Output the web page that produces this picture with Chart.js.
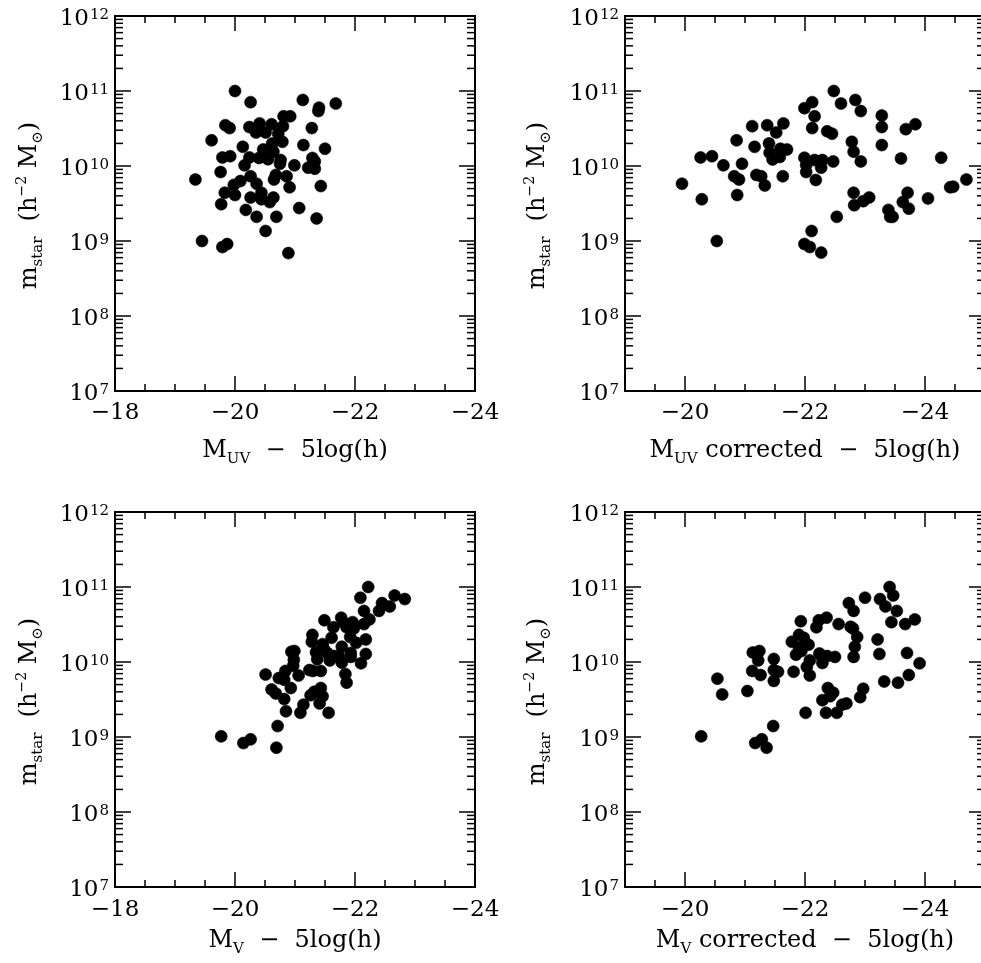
<!DOCTYPE html>
<html>
<head>
<meta charset="utf-8">
<script src="https://cdn.jsdelivr.net/npm/chart.js@4.4.0/dist/chart.umd.min.js"></script>
<style>
  html, body { margin: 0; padding: 0; background: #fff; width: 981px; height: 963px; overflow: hidden; position: relative; }
  canvas { position: absolute; }
  .t { position: absolute; font-family: "DejaVu Serif", serif; font-size: 24px; color: #000; white-space: pre; line-height: 24px; text-align: center; }
  .rot { transform: rotate(-90deg); }
  .sub { font-size: 15px; position: relative; top: 6px; }
  .sup { font-size: 14px; position: relative; top: -10px; }
</style>
</head>
<body>
<canvas id="p1" width="520" height="480" style="left:0;top:0"></canvas>
<canvas id="p2" width="510" height="480" style="left:490px;top:0"></canvas>
<canvas id="p3" width="520" height="473" style="left:0;top:490px"></canvas>
<canvas id="p4" width="510" height="473" style="left:490px;top:490px"></canvas>

<div class="t" style="left:95px;top:437px;width:400px">M<span class="sub">UV</span>  −  5log(h)</div>
<div class="t" style="left:605px;top:437px;width:400px">M<span class="sub">UV</span> corrected  −  5log(h)</div>
<div class="t" style="left:95px;top:927px;width:400px">M<span class="sub">V</span>  −  5log(h)</div>
<div class="t" style="left:605px;top:927px;width:400px">M<span class="sub">V</span> corrected  −  5log(h)</div>

<div class="t rot" style="left:-171px;top:192px;width:400px">m<span class="sub">star</span>  (h<span class="sup">−2</span> M<span class="sub">⊙</span>)</div>
<div class="t rot" style="left:337px;top:192px;width:400px">m<span class="sub">star</span>  (h<span class="sup">−2</span> M<span class="sub">⊙</span>)</div>
<div class="t rot" style="left:-171px;top:688px;width:400px">m<span class="sub">star</span>  (h<span class="sup">−2</span> M<span class="sub">⊙</span>)</div>
<div class="t rot" style="left:337px;top:688px;width:400px">m<span class="sub">star</span>  (h<span class="sup">−2</span> M<span class="sub">⊙</span>)</div>

<script>
// stellar masses are in units of 1e9 h^-2 Msun

// top left: M_UV
const muv = [-20.0, -20.26, -21.13, -21.68, -21.40, -21.39, -20.81, -20.92, -19.84, -19.91,
  -20.24, -20.41, -20.61, -20.35, -20.51, -20.80, -20.72, -21.28, -19.61, -20.13,
  -20.62, -20.79, -21.14, -21.50, -20.47, -20.64, -19.79, -19.92, -20.24, -20.40,
  -20.55, -20.76, -20.75, -21.29, -21.33, -20.99, -21.22, -21.33, -20.16, -19.76,
  -19.34, -20.09, -20.26, -19.98, -20.36, -20.68, -20.65, -20.86, -19.83, -20.00,
  -19.77, -20.26, -20.44, -20.44, -20.58, -20.64, -20.91, -21.43, -20.18, -20.36,
  -20.69, -21.07, -21.36, -20.51, -19.45, -19.79, -19.87, -20.89];
const mstarUV = [100, 71, 76, 68, 60, 54, 46, 46, 35, 32,
  33, 37, 36, 28, 28, 34, 27, 32, 22, 18,
  20, 21, 19, 17, 16.6, 15.5, 13, 13.5, 13, 12.8,
  12.3, 12, 10.7, 12.8, 11.5, 10.2, 9.5, 9.2, 10.2, 8.3,
  6.6, 6.3, 7.3, 5.6, 5.8, 7.6, 6.6, 7.3, 4.4, 4.1,
  3.1, 3.8, 4.4, 3.6, 3.3, 3.8, 5.2, 5.4, 2.6, 2.1,
  2.1, 2.75, 2.0, 1.36, 1.0, 0.83, 0.91, 0.69];

// top right: M_UV corrected
const muvCorr = [-22.48, -22.84, -22.60, -22.12, -21.99, -22.93, -22.16, -23.28, -23.28, -23.68,
  -23.84, -22.12, -22.37, -22.45, -21.12, -21.37, -21.64, -21.52, -20.86, -21.16,
  -21.40, -21.59, -21.70, -21.41, -21.46, -21.58, -22.78, -22.81, -23.28, -20.26,
  -20.45, -20.64, -20.95, -21.99, -22.02, -22.16, -22.29, -22.27, -22.02, -22.47,
  -22.93, -23.60, -24.27, -19.95, -20.82, -20.90, -21.19, -21.27, -21.33, -21.63,
  -22.18, -20.28, -20.87, -22.81, -22.82, -22.97, -23.07, -23.71, -23.63, -23.73,
  -23.39, -23.42, -23.46, -24.05, -24.42, -24.47, -24.69, -22.53, -22.11, -20.53,
  -21.99, -22.08, -22.27];
const mstarUVCorr = [100, 76, 68, 71, 59, 54, 46, 47, 33, 31,
  36, 32, 29, 27, 34, 35, 37, 28, 22, 18,
  20, 17, 16.6, 15, 12.2, 13.2, 21, 15.5, 19, 13,
  13.5, 10.2, 10.7, 12.9, 10.3, 12, 12, 9.5, 8.3, 11.5,
  11.5, 12.6, 12.9, 5.8, 7.3, 6.6, 7.6, 7.3, 5.5, 7.3,
  6.5, 3.6, 4.1, 4.4, 3.0, 3.4, 3.8, 4.4, 3.3, 2.7,
  2.6, 2.1, 2.1, 3.7, 5.2, 5.3, 6.6, 2.1, 1.36, 1.0,
  0.91, 0.83, 0.70];

// bottom left: M_V
const mv = [-22.22, -22.09, -22.66, -22.83, -22.45, -22.58, -22.40, -22.15, -22.24, -22.15,
  -21.49, -21.77, -21.80, -21.96, -21.86, -21.98, -21.64, -21.29, -21.28, -21.61,
  -21.92, -22.02, -22.18, -21.78, -21.46, -21.48, -21.35, -21.54, -21.65, -21.73,
  -21.93, -21.93, -22.18, -22.10, -21.37, -21.58, -21.78, -20.94, -20.99, -20.98,
  -20.97, -20.51, -20.84, -21.06, -21.24, -21.30, -21.43, -20.73, -20.82, -20.93,
  -20.61, -20.68, -20.82, -21.84, -21.86, -21.26, -21.32, -21.43, -21.46, -21.41,
  -21.14, -21.09, -20.85, -21.56, -20.71, -19.77, -20.14, -20.26, -20.69];
const mstarV = [100, 72, 77, 69, 61, 55, 48, 48, 37, 32,
  36, 39, 34, 34, 29, 28, 29, 23, 18.6, 21,
  21.5, 18, 20, 16, 17.3, 15, 13.5, 13.2, 12, 12,
  13.2, 11.7, 12.8, 9.6, 10.9, 10.5, 9.8, 13.7, 14, 10.7,
  8.9, 6.8, 7.6, 6.6, 7.8, 7.6, 7.6, 6.1, 5.8, 4.5,
  4.3, 3.8, 3.2, 6.9, 5.3, 3.6, 4.0, 4.5, 3.5, 2.8,
  2.7, 2.1, 2.2, 2.1, 1.4, 1.02, 0.83, 0.93, 0.72];

// bottom right: M_V corrected
const mvCorr = [-23.41, -23.47, -23.00, -23.25, -22.73, -23.34, -22.81, -23.53, -21.93, -22.23,
  -22.36, -22.19, -22.56, -22.76, -22.80, -23.44, -23.67, -23.83, -22.87, -23.21,
  -21.78, -21.90, -21.98, -22.06, -21.90, -21.94, -21.85, -22.83, -21.13, -21.24,
  -21.22, -21.48, -22.24, -22.28, -22.37, -22.50, -22.29, -22.08, -22.03, -22.81,
  -23.24, -23.70, -23.91, -21.12, -21.26, -21.48, -21.55, -21.48, -21.81, -22.08,
  -20.54, -20.62, -21.04, -22.38, -22.47, -22.42, -22.29, -22.62, -22.69, -22.97,
  -22.92, -23.32, -23.55, -23.73, -22.01, -22.35, -22.53, -21.47, -20.27, -21.17,
  -21.28, -21.36];
const mstarVCorr = [100, 77, 72, 69, 61, 55, 48, 48, 35, 36,
  39, 29, 32, 29.5, 28, 34, 32, 37, 21.5, 20,
  18.6, 23, 21, 17, 15.5, 14, 12.5, 16, 13.4, 14,
  10.5, 11, 13, 11.7, 12, 11.7, 9.7, 10.5, 8.6, 11.7,
  12.8, 13.2, 9.6, 7.6, 6.7, 7.8, 7.4, 5.6, 7.4, 6.6,
  6.0, 3.7, 4.1, 4.5, 3.9, 3.5, 3.1, 2.7, 2.8, 4.4,
  3.4, 5.5, 5.3, 6.7, 2.1, 2.1, 2.1, 1.4, 1.02, 0.83,
  0.93, 0.72];

// tick labels
const xLabelsLeft = [-18, -20, -22, -24];
const xLabelsRight = [-20, -22, -24];
const yExponents = [7, 8, 9, 10, 11, 12];

const FONT = '"DejaVu Serif", serif';

// PGPLOT-like box: inward ticks on all four sides, minor ticks, labels
const boxPlugin = {
  id: 'box',
  afterDraw(chart, args, opts) {
    const { ctx, chartArea: a, scales: { x, y } } = chart;
    ctx.save();
    ctx.strokeStyle = '#000';
    ctx.fillStyle = '#000';
    ctx.lineWidth = 1.5;
    const seg = (x0, y0, x1, y1) => { ctx.beginPath(); ctx.moveTo(x0, y0); ctx.lineTo(x1, y1); ctx.stroke(); };

    // x ticks every 0.5 mag, long ones every 2
    for (let v = Math.ceil(x.min * 2) / 2; v <= x.max + 1e-6; v += 0.5) {
      const px = x.getPixelForValue(v);
      const len = Math.abs(v % 2) < 1e-6 ? 15 : 7;
      seg(px, a.bottom, px, a.bottom - len);
      seg(px, a.top, px, a.top + len);
    }
    // y ticks: decades long, 2..9 short
    for (let d = 7; d < 12; d++) {
      for (let k = 1; k <= 9; k++) {
        const py = y.getPixelForValue(k * Math.pow(10, d));
        const len = k === 1 ? 16 : 8;
        seg(a.left, py, a.left + len, py);
        seg(a.right, py, a.right - len, py);
      }
    }

    ctx.lineWidth = 2;
    ctx.strokeRect(a.left, a.top, a.right - a.left, a.bottom - a.top);

    // x labels
    ctx.font = '23px ' + FONT;
    ctx.textAlign = 'center';
    ctx.textBaseline = 'middle';
    opts.xLabels.forEach(v => {
      ctx.fillText('\u2212' + Math.abs(v), x.getPixelForValue(v), a.bottom + opts.xLabelGap);
    });

    // y labels 10^n
    ctx.textAlign = 'right';
    ctx.textBaseline = 'alphabetic';
    yExponents.forEach(e => {
      const py = y.getPixelForValue(Math.pow(10, e));
      const xr = a.left - 6;
      ctx.font = '15px ' + FONT;
      const ws = ctx.measureText(String(e)).width;
      ctx.fillText(String(e), xr, py + 3);
      ctx.font = '23px ' + FONT;
      ctx.fillText('10', xr - ws - 1, py + 8.5);
    });
    ctx.restore();
  }
};

function makePanel(id, xs, ms, xMin, xMax, xLabels, padding, xLabelGap) {
  new Chart(document.getElementById(id), {
    type: 'scatter',
    data: {
      datasets: [{
        data: xs.map((v, i) => ({ x: v, y: ms[i] * 1e9 })),
        pointRadius: 6,
        pointHoverRadius: 6,
        backgroundColor: '#000',
        borderColor: '#000',
        borderWidth: 0.6
      }]
    },
    options: {
      responsive: false,
      animation: false,
      events: [],
      layout: { padding: padding },
      plugins: {
        legend: { display: false },
        tooltip: { enabled: false },
        box: { xLabels: xLabels, xLabelGap: xLabelGap }
      },
      scales: {
        x: { type: 'linear', display: false, min: xMin, max: xMax, reverse: true },
        y: { type: 'logarithmic', display: false, min: 1e7, max: 1e12 }
      }
    },
    plugins: [boxPlugin]
  });
}

makePanel('p1', muv, mstarUV, -24, -18, xLabelsLeft, { left: 115, top: 16, right: 45, bottom: 89 }, 22);
makePanel('p2', muvCorr, mstarUVCorr, -25, -19, xLabelsRight, { left: 135, top: 16, right: 15, bottom: 89 }, 22);
makePanel('p3', mv, mstarV, -24, -18, xLabelsLeft, { left: 115, top: 22, right: 45, bottom: 76 }, 23);
makePanel('p4', mvCorr, mstarVCorr, -25, -19, xLabelsRight, { left: 135, top: 22, right: 15, bottom: 76 }, 23);
</script>
</body>
</html>
